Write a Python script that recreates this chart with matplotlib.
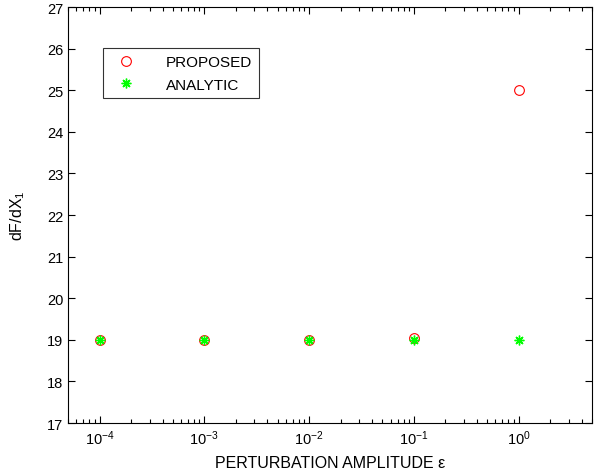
import matplotlib
matplotlib.use("Agg")
from matplotlib import pyplot as plt
import numpy as np

plt.rcParams['font.family'] = ['Liberation Sans', 'DejaVu Sans']
plt.rcParams['mathtext.fontset'] = 'custom'
plt.rcParams['mathtext.rm'] = 'Liberation Sans'
plt.rcParams['mathtext.it'] = 'Liberation Sans'
plt.rcParams['axes.unicode_minus'] = False

## data
epsilon = [1e-4, 1e-3, 1e-2, 1e-1, 1e0]
proposed = [19.0, 19.0, 19.0, 19.05, 25.0]
analytic = [19.0, 19.0, 19.0, 19.0, 19.0]

fig = plt.figure(figsize=(5.99, 4.77), dpi=100)
ax = fig.add_axes([0.1135, 0.111, 0.8745, 0.872])

ax.plot(epsilon, proposed, linestyle='none', marker='o', markersize=7,
        markerfacecolor='none', markeredgecolor='red', markeredgewidth=0.8,
        label='PROPOSED')
ax.plot(epsilon, analytic, linestyle='none', marker=(8, 2, 0), markersize=7,
        color=(0, 1, 0), markeredgewidth=1.0, label='ANALYTIC')

ax.set_xscale('log')
ax.set_xlim(5e-5, 5)
ax.set_ylim(17, 27)
ax.set_yticks(np.arange(17, 28, 1))
ax.set_xticks(epsilon)

ax.tick_params(which='both', direction='in', top=True, right=True, labelsize=10.5)
ax.tick_params(which='major', length=5, width=0.8)
ax.tick_params(which='minor', length=3, width=0.8)
for s in ax.spines.values():
    s.set_linewidth(0.8)

ax.set_xlabel('PERTURBATION AMPLITUDE ε', fontsize=11.5, labelpad=6)
ax.set_ylabel('dF/dX$_1$', fontsize=11.5, labelpad=14)

leg = ax.legend(loc='upper left', bbox_to_anchor=(0.066, 0.901), fontsize=11,
                frameon=True, fancybox=False, edgecolor='black',
                handletextpad=1.5, borderpad=0.45, labelspacing=0.55,
                handlelength=2.2, borderaxespad=0)
leg.get_frame().set_linewidth(0.8)

fig.savefig("out.png", dpi=100)
